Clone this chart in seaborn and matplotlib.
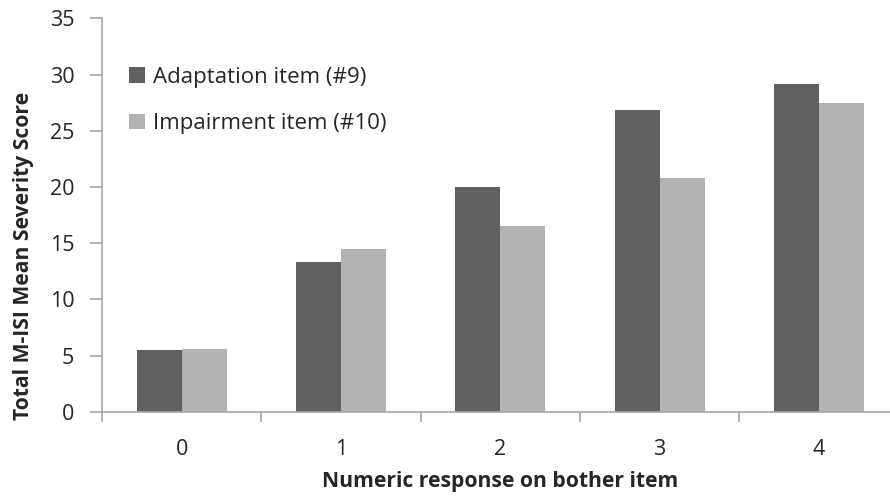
import pandas as pd
import seaborn as sns
from matplotlib import pyplot as plt

responses = ["0", "1", "2", "3", "4"]
adaptation = [5.45, 13.35, 19.95, 26.85, 29.15]
impairment = [5.55, 14.45, 16.55, 20.8, 27.45]
series = ["Adaptation item (#9)", "Impairment item (#10)"]

df = pd.DataFrame({
    "response": responses * 2,
    "score": adaptation + impairment,
    "item": [series[0]] * 5 + [series[1]] * 5,
})

sns.set_style("white")
plt.rcParams["font.family"] = ["Open Sans", "DejaVu Sans"]

fig = plt.figure(figsize=(8.9, 4.96), dpi=100)
ax = fig.add_axes([102 / 890, 84.3 / 496, 796.5 / 890, 393.4 / 496])

sns.barplot(data=df, x="response", y="score", hue="item",
            palette=["#606060", "#b2b2b2"], width=0.565, gap=0,
            edgecolor="none", ax=ax)

ax.set_xlim(-0.5, 4.5)
ax.set_ylim(0, 35)
ax.set_yticks(range(0, 36, 5))

grey = "#a6a6a6"
sns.despine(ax=ax)
for s in ["left", "bottom"]:
    ax.spines[s].set_color(grey)
    ax.spines[s].set_linewidth(1.2)

# category separators as tick marks
ax.set_xticks([-0.5, 0.5, 1.5, 2.5, 3.5, 4.5], minor=True)
ax.tick_params(axis="x", which="minor", direction="out", length=7,
               color=grey, width=1.2, bottom=True)
ax.tick_params(axis="x", which="major", length=0, pad=20, labelsize=15.5)
ax.tick_params(axis="y", direction="out", length=9, color=grey,
               width=1.2, pad=11, labelsize=15.5, left=True)

ax.set_xlabel("Numeric response on bother item", fontsize=15.2,
              fontweight="bold", va="top")
ax.xaxis.set_label_coords(0.4997, -0.150)
ax.set_ylabel("Total M-ISI Mean Severity Score", fontsize=15.2,
              fontweight="bold", va="center")
ax.yaxis.set_label_coords(-0.099, 0.396)

ax.legend(loc="upper left", bbox_to_anchor=(0.02, 0.905), frameon=False,
          fontsize=16, handlelength=0.7, handleheight=0.7,
          handletextpad=0.4, labelspacing=1.15, borderpad=0)

fig.savefig("out.png", dpi=100)
